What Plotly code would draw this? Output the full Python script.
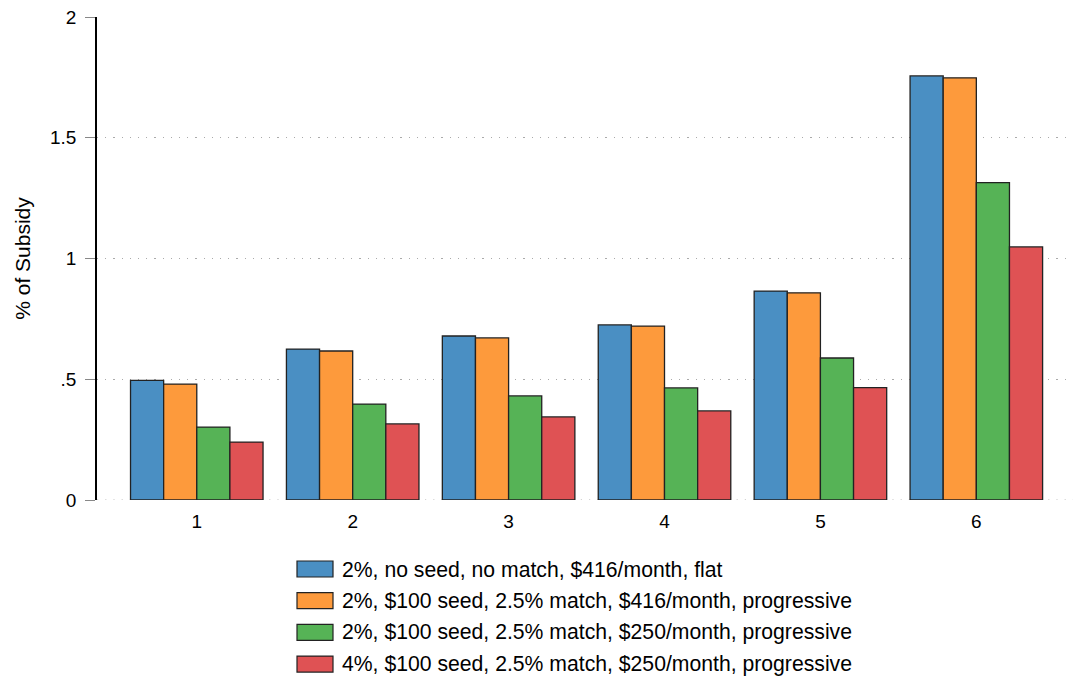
import plotly.graph_objects as go

categories = ["1", "2", "3", "4", "5", "6"]
series_names = [
    "2%, no seed, no match, $416/month, flat",
    "2%, $100 seed, 2.5% match, $416/month, progressive",
    "2%, $100 seed, 2.5% match, $250/month, progressive",
    "4%, $100 seed, 2.5% match, $250/month, progressive",
]
s1 = [0.495, 0.625, 0.679, 0.725, 0.865, 1.756]
s2 = [0.480, 0.617, 0.671, 0.720, 0.858, 1.748]
s3 = [0.302, 0.397, 0.431, 0.464, 0.588, 1.314]
s4 = [0.240, 0.315, 0.344, 0.369, 0.465, 1.048]
series = [s1, s2, s3, s4]
colors = ["#4a8fc3", "#fd9a3c", "#56b356", "#df5254"]
y_ticks = [0, 0.5, 1, 1.5, 2]
y_tick_labels = ["0", ".5", "1", "1.5", "2"]

FONT = "Liberation Sans, Arial, Helvetica, sans-serif"
xpos = list(range(1, len(categories) + 1))

W, H = 1075, 677
L, R, T, B = 97, 2, 17, 177
PW, PH = W - L - R, H - T - B

fig = go.Figure()
# dotted baseline at 0 (gridline hidden at range edge by plotly)
fig.add_shape(type="line", xref="paper", yref="y", x0=0, x1=1, y0=0, y1=0,
              line=dict(color="#aaaaaa", width=1.2, dash="1.2px,7px"), layer="below")
for name, vals, col in zip(series_names, series, colors):
    fig.add_trace(go.Bar(
        x=xpos, y=vals, name=name,
        marker=dict(color=col, line=dict(color="#222222", width=1.3)),
        showlegend=False,
    ))

# custom legend (paper coords relative to plot area)
leg_y0 = 569
for i, (name, col) in enumerate(zip(series_names, colors)):
    yc = leg_y0 + i * 31.7
    fig.add_shape(type="rect", xref="paper", yref="paper",
                  x0=(297 - L) / PW, x1=(333 - L) / PW,
                  y0=(H - B - (yc + 8)) / PH, y1=(H - B - (yc - 8)) / PH,
                  fillcolor=col, line=dict(color="#222222", width=1.2))
    fig.add_annotation(xref="paper", yref="paper", x=(340 - L) / PW,
                       y=(H - B - yc) / PH, text=name, showarrow=False,
                       xanchor="left", yanchor="middle",
                       font=dict(family=FONT, size=21.2, color="#000"))

fig.update_layout(
    width=W, height=H,
    margin=dict(l=L, r=R, t=T, b=B),
    paper_bgcolor="white", plot_bgcolor="white",
    barmode="group", bargap=0.15, bargroupgap=0,
    font=dict(family=FONT, size=19, color="#000"),
    showlegend=False,
)
fig.update_xaxes(
    range=[0.36, 6.62], tickvals=xpos, ticktext=categories,
    showline=False, showgrid=False, zeroline=False, ticks="",
    tickfont=dict(size=19), ticklabelstandoff=8,
)
fig.update_yaxes(
    range=[0, 2], tickvals=y_ticks, ticktext=y_tick_labels,
    showline=True, linecolor="#000", linewidth=1.5,
    ticks="outside", ticklen=10, tickcolor="#888", tickwidth=1.2,
    showgrid=True, gridcolor="#aaaaaa", griddash="1.2px,7px", gridwidth=1.2,
    zeroline=False, tickfont=dict(size=19), ticklabelstandoff=5,
    title=dict(text="% of Subsidy", font=dict(size=21), standoff=14),
)
fig.write_html("out.html", config={"displayModeBar": False},
               post_script="document.body.style.margin='0';document.body.style.padding='0';")
